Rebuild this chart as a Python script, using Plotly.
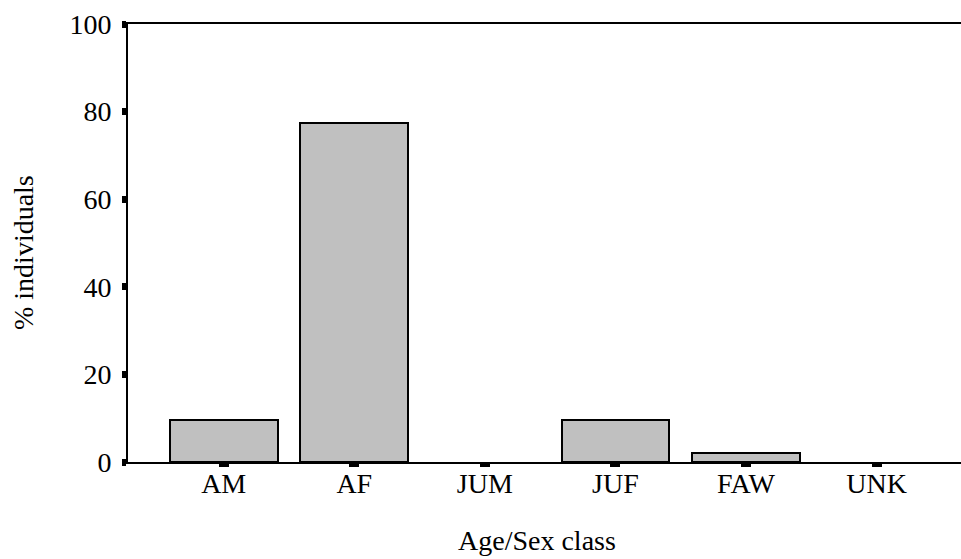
import plotly.graph_objects as go

categories = ["AM", "AF", "JUM", "JUF", "FAW", "UNK"]
pct_individuals = [9.5, 77.5, 0, 9.5, 2.15, 0]
y_ticks = [0, 20, 40, 60, 80, 100]

W, H = 961, 559
ml, mr, mt, mb = 128, 0, 24, 97

outline_widths = [2 if v > 0 else 0 for v in pct_individuals]

fig = go.Figure(go.Bar(
    x=list(range(len(categories))),
    y=pct_individuals,
    width=0.825,
    marker=dict(color="#c0c0c0", line=dict(color="black", width=outline_widths)),
))

font = dict(family="Liberation Serif, Times New Roman, serif", size=28, color="black")

fig.update_layout(
    width=W, height=H,
    margin=dict(l=ml, r=mr, t=mt, b=mb, pad=0),
    plot_bgcolor="white", paper_bgcolor="white",
    showlegend=False,
    font=font,
    bargap=0,
    xaxis=dict(
        range=[-0.733, 5.647],
        tickmode="array",
        tickvals=list(range(len(categories))),
        ticktext=categories,
        showline=True, linecolor="black", linewidth=2, mirror=True,
        ticks="outside", ticklen=3, tickwidth=10, tickcolor="black",
        showgrid=False, zeroline=False,
        ticklabelstandoff=-8,
    ),
    yaxis=dict(
        range=[0, 100],
        tickmode="array",
        tickvals=y_ticks,
        showline=True, linecolor="black", linewidth=2,
        ticks="outside", ticklen=4, tickwidth=7, tickcolor="black",
        showgrid=False, zeroline=False,
        ticklabelstandoff=5,
    ),
    annotations=[
        dict(text="Age/Sex class", xref="paper", yref="paper",
             x=(537 - ml) / (W - ml - mr), y=-(540 - (H - mb)) / (H - mt - mb),
             xanchor="center", yanchor="middle", showarrow=False, font=font),
        dict(text="% individuals", xref="paper", yref="paper",
             x=-(ml - 24) / (W - ml - mr), y=((H - mb) - 253) / (H - mt - mb),
             xanchor="center", yanchor="middle", textangle=-90, showarrow=False, font=font),
    ],
)

fig.write_html("out.html")
